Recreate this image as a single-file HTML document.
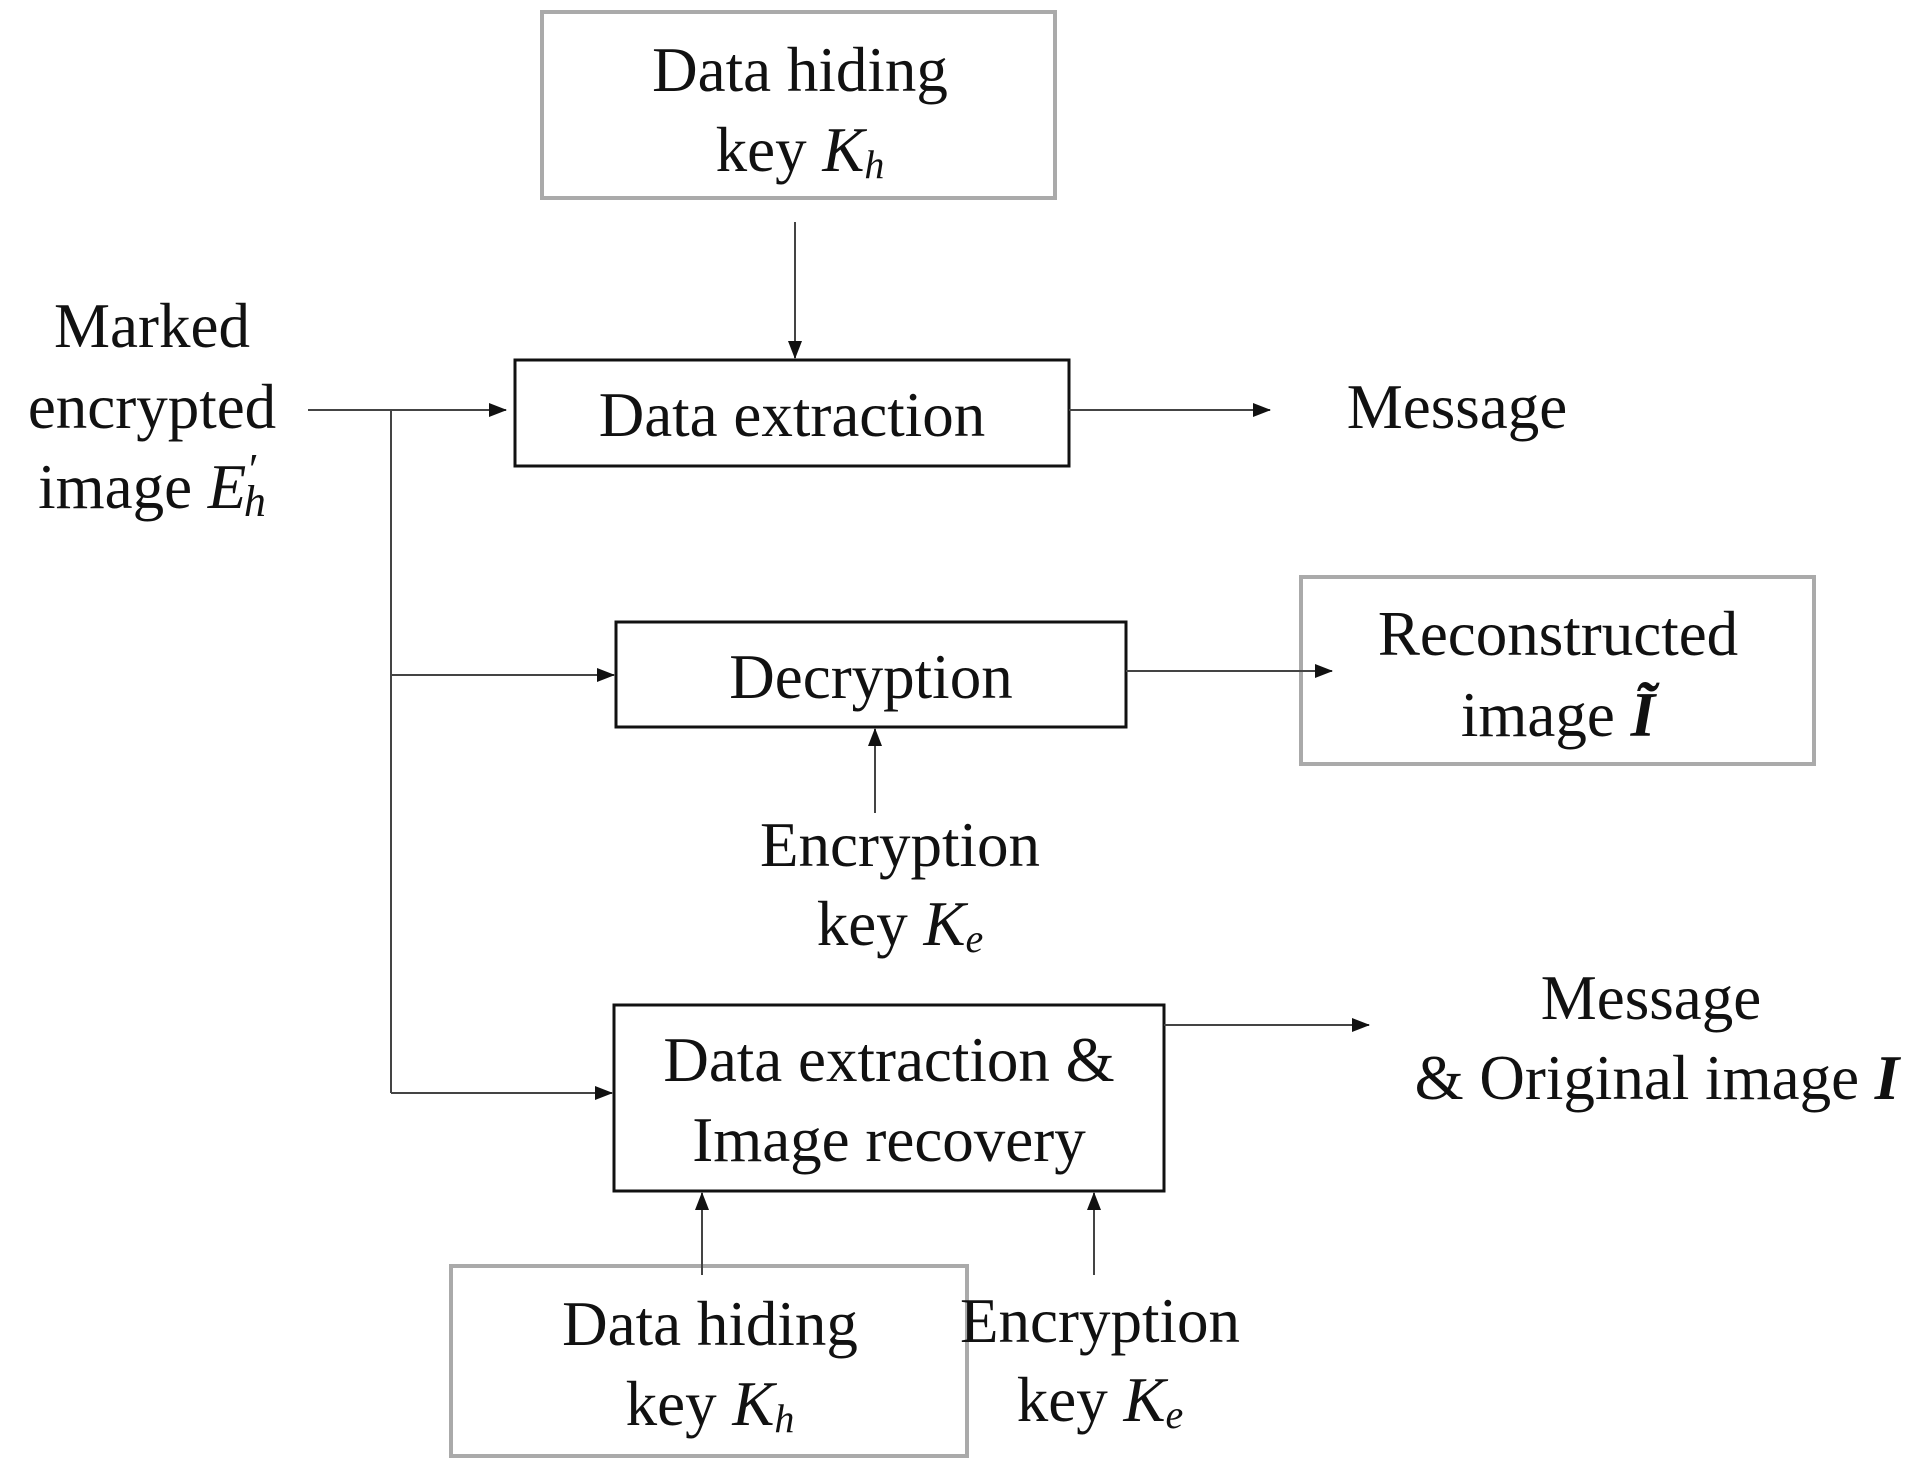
<!DOCTYPE html>
<html><head><meta charset="utf-8"><style>
html,body{margin:0;padding:0;background:#fff}
svg{display:block}
text{font-family:"Liberation Serif",serif;font-size:63px;fill:#111;text-anchor:middle;dominant-baseline:central}
</style></head><body>
<svg width="1932" height="1479" viewBox="0 0 1932 1479" xmlns="http://www.w3.org/2000/svg">
<defs><marker id="a" markerWidth="10" markerHeight="10" refX="9" refY="5" orient="auto" markerUnits="userSpaceOnUse" viewBox="0 0 10 10"><path d="M0,0 L10,5 L0,10 z" fill="#111"/></marker>
<marker id="b" markerWidth="18" markerHeight="18" refX="17" refY="7" orient="auto" markerUnits="userSpaceOnUse" viewBox="0 0 18 14"><path d="M0,0 L18,7 L0,14 z" fill="#111"/></marker></defs>
<g fill="none">
<rect x="542" y="12" width="513" height="186" stroke="#aaa" stroke-width="4"/>
<rect x="1301" y="577" width="513" height="187" stroke="#aaa" stroke-width="4"/>
<rect x="451" y="1266" width="516" height="190" stroke="#aaa" stroke-width="4"/>
<rect x="515" y="360" width="554" height="106" stroke="#111" stroke-width="3"/>
<rect x="616" y="622" width="510" height="105" stroke="#111" stroke-width="3"/>
<rect x="614" y="1005" width="550" height="186" stroke="#111" stroke-width="3"/>
</g>
<g stroke="#444" stroke-width="2" fill="none">
<line x1="795" y1="222" x2="795" y2="358" marker-end="url(#b)"/>
<line x1="308" y1="410" x2="506" y2="410" marker-end="url(#b)"/>
<line x1="391" y1="410" x2="391" y2="1093"/>
<line x1="1069" y1="410" x2="1270" y2="410" marker-end="url(#b)"/>
<line x1="391" y1="675" x2="614" y2="675" marker-end="url(#b)"/>
<line x1="1126" y1="671" x2="1332" y2="671" marker-end="url(#b)"/>
<line x1="875" y1="813" x2="875" y2="729" marker-end="url(#b)"/>
<line x1="391" y1="1093" x2="612" y2="1093" marker-end="url(#b)"/>
<line x1="1164" y1="1025" x2="1369" y2="1025" marker-end="url(#b)"/>
<line x1="702" y1="1275" x2="702" y2="1193" marker-end="url(#b)"/>
<line x1="1094" y1="1275" x2="1094" y2="1193" marker-end="url(#b)"/>
</g>
<text x="800" y="70">Data hiding</text>
<text x="800" y="150">key <tspan font-style="italic">K</tspan><tspan font-style="italic" font-size="40" dy="14">h</tspan></text>
<text x="152" y="326">Marked</text>
<text x="152" y="407">encrypted</text>
<text x="152" y="487">image <tspan font-style="italic">E</tspan><tspan font-style="italic" dy="-18" font-size="44">′</tspan><tspan font-style="italic" font-size="44" dx="-12" dy="32">h</tspan></text>
<text x="792" y="415">Data extraction</text>
<text x="1457" y="407">Message</text>
<text x="871" y="677">Decryption</text>
<text x="1558" y="634">Reconstructed</text>
<text x="1558" y="715">image <tspan font-style="italic" font-weight="bold">Ĩ</tspan></text>
<text x="900" y="845">Encryption</text>
<text x="900" y="924">key <tspan font-style="italic">K</tspan><tspan font-style="italic" font-size="40" dy="14">e</tspan></text>
<text x="889" y="1060">Data extraction &amp;</text>
<text x="889" y="1140">Image recovery</text>
<text x="1651" y="998">Message</text>
<text x="1657" y="1078">&amp; Original image <tspan font-style="italic" font-weight="bold">I</tspan></text>
<text x="710" y="1324">Data hiding</text>
<text x="710" y="1404">key <tspan font-style="italic">K</tspan><tspan font-style="italic" font-size="40" dy="14">h</tspan></text>
<text x="1100" y="1321">Encryption</text>
<text x="1100" y="1400">key <tspan font-style="italic">K</tspan><tspan font-style="italic" font-size="40" dy="14">e</tspan></text>
</svg>
</body></html>
